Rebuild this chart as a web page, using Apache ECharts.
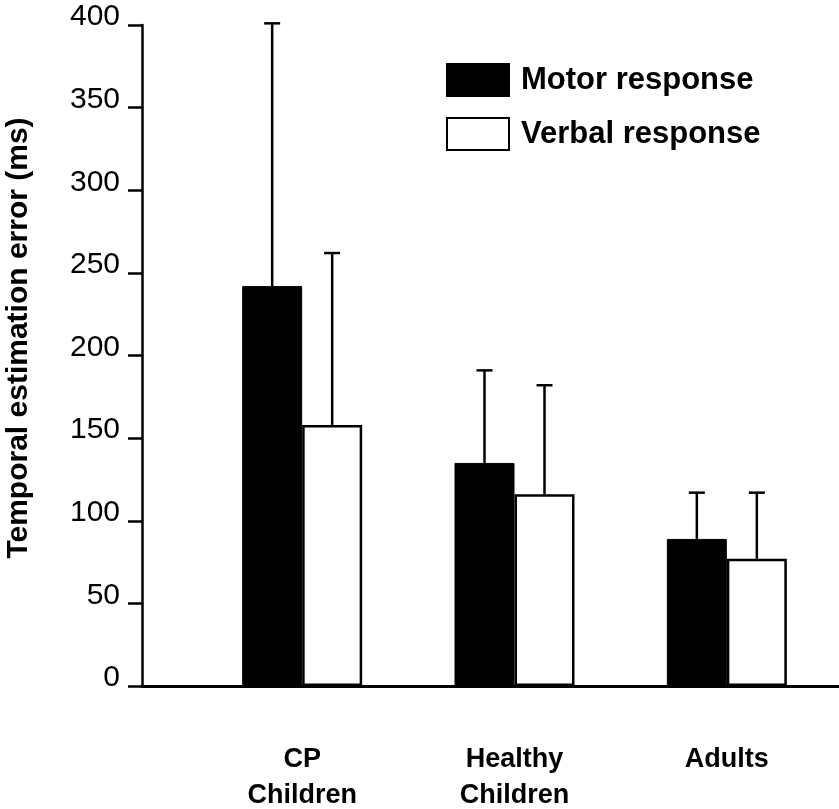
<!DOCTYPE html>
<html>
<head>
<meta charset="utf-8">
<script src="https://cdn.jsdelivr.net/npm/echarts@6/dist/echarts.min.js"></script>
<style>
  html, body { margin: 0; padding: 0; background: #fff; }
  #chart { width: 839px; height: 809px; }
</style>
</head>
<body>
<div id="chart"></div>
<script>
const categories = ['CP\nChildren', 'Healthy\nChildren', 'Adults'];
const motorMean = [242, 135, 89];
const motorErr = [159, 56, 28];
const verbalMean = [158, 116, 77];
const verbalErr = [104, 66, 40];
const yMin = 0, yMax = 400, yStep = 50;
const seriesNames = ['Motor response', 'Verbal response'];
const yTitle = 'Temporal estimation error (ms)';

const FONT = '"Liberation Sans", Arial, sans-serif';
const chart = echarts.init(document.getElementById('chart'), null, { renderer: 'canvas' });

function errData(mean, err) {
  return categories.map((c, i) => [i, mean[i], mean[i] + err[i]]);
}
function errRender(offset) {
  return function (params, api) {
    const base = api.coord([api.value(0), api.value(1)]);
    const top = api.coord([api.value(0), api.value(2)]);
    const x = base[0] + offset;
    const st = { stroke: '#000', lineWidth: 2.5 };
    return {
      type: 'group',
      children: [
        { type: 'line', shape: { x1: x, y1: base[1], x2: x, y2: top[1] }, style: st },
        { type: 'line', shape: { x1: x - 8, y1: top[1], x2: x + 8, y2: top[1] }, style: st }
      ]
    };
  };
}

const option = {
  animation: false,
  backgroundColor: '#fff',
  textStyle: { fontFamily: FONT },
  grid: [
    { left: 142, right: 0, top: 25, bottom: 123, containLabel: false, outerBoundsMode: 'none' },
    { left: 196, right: 6, top: 25, bottom: 123, containLabel: false, outerBoundsMode: 'none' }
  ],
  legend: {
    orient: 'vertical',
    left: 446,
    top: 63,
    padding: 0,
    itemWidth: 62,
    itemHeight: 32,
    itemGap: 20,
    icon: 'rect',
    data: seriesNames,
    textStyle: { fontFamily: FONT, fontSize: 31, fontWeight: 'bold', color: '#000', padding: [0, 0, 0, 7] }
  },
  xAxis: [
    {
      type: 'value', gridIndex: 0, min: 0, max: 1,
      axisLine: { show: true, onZero: false, lineStyle: { color: '#000', width: 3 } },
      axisTick: { show: false }, axisLabel: { show: false }, splitLine: { show: false }
    },
    {
      type: 'category', gridIndex: 1, data: categories,
      axisLine: { show: false }, axisTick: { show: false },
      axisLabel: {
        fontFamily: FONT, fontSize: 27, fontWeight: 'bold', color: '#000',
        lineHeight: 36, margin: 56, interval: 0
      }
    }
  ],
  yAxis: [
    { type: 'value', gridIndex: 0, min: yMin, max: yMax, show: false },
    {
      type: 'value', gridIndex: 1, min: yMin, max: yMax, interval: yStep,
      offset: 54,
      axisLine: { show: true, onZero: false, lineStyle: { color: '#000', width: 2.5 } },
      axisTick: { show: true, length: 14, lineStyle: { color: '#000', width: 2.5 } },
      axisLabel: {
        fontFamily: FONT, fontSize: 30, color: '#000', margin: 22,
        verticalAlign: 'bottom', lineHeight: 16
      },
      splitLine: { show: false }
    }
  ],
  graphic: [
    {
      type: 'text', x: 19, y: 338, rotation: Math.PI / 2,
      style: {
        text: yTitle, fontFamily: FONT, fontSize: 30, fontWeight: 'bold',
        fill: '#000', textAlign: 'center', textVerticalAlign: 'middle'
      }
    }
  ],
  series: [
    {
      name: seriesNames[0], type: 'bar', xAxisIndex: 1, yAxisIndex: 1,
      data: motorMean, barWidth: 60, barGap: '0%',
      itemStyle: { color: '#000', borderColor: '#000', borderWidth: 1 }
    },
    {
      name: seriesNames[1], type: 'bar', xAxisIndex: 1, yAxisIndex: 1,
      data: verbalMean, barWidth: 60, barGap: '0%',
      itemStyle: { color: '#fff', borderColor: '#000', borderWidth: 2.5 }
    },
    {
      name: 'motorErr', type: 'custom', xAxisIndex: 1, yAxisIndex: 1,
      data: errData(motorMean, motorErr), renderItem: errRender(-30),
      encode: { x: 0, y: [1, 2] }, z: 3
    },
    {
      name: 'verbalErr', type: 'custom', xAxisIndex: 1, yAxisIndex: 1,
      data: errData(verbalMean, verbalErr), renderItem: errRender(30),
      encode: { x: 0, y: [1, 2] }, z: 3
    }
  ]
};
chart.setOption(option);
</script>
</body>
</html>
